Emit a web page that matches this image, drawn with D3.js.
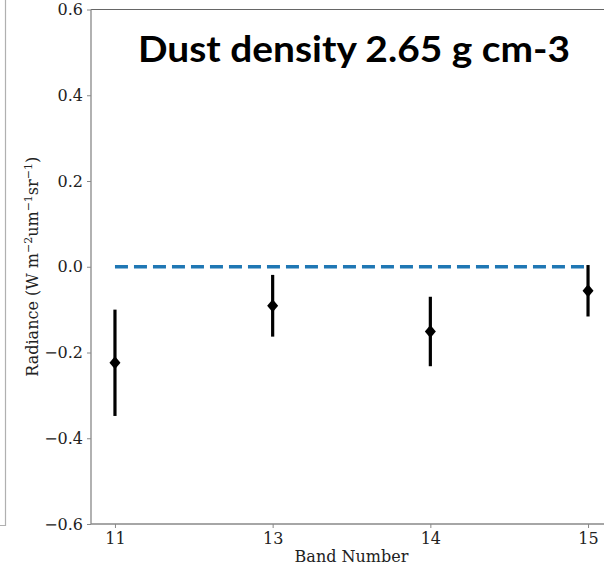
<!DOCTYPE html>
<html>
<head>
<meta charset="utf-8">
<script src="https://cdn.jsdelivr.net/npm/d3@7"></script>
<style>
  body { margin: 0; background: #fff; }
  text { font-family: "DejaVu Serif", serif; }
</style>
</head>
<body>
<script>
// values
var bands = ["11", "13", "14", "15"];
var radiance = [-0.224, -0.091, -0.151, -0.056];
var errors = [0.124, 0.072, 0.081, 0.060];
var yTicks = [-0.6, -0.4, -0.2, 0.0, 0.2, 0.4, 0.6];
var title = "Dust density 2.65 g cm-3";

var width = 604, height = 570;
var plotLeft = 91, plotRight = 612, plotTop = 9.5, plotBottom = 524;

var svg = d3.select("body").append("svg")
  .attr("width", width).attr("height", height);

// edge of the neighbouring panel
svg.append("path")
  .attr("d", "M5.5,0V525.5H0")
  .attr("fill", "none").attr("stroke", "#b0b0b0").attr("stroke-width", 1.2);

var x = d3.scalePoint().domain(bands).range([plotLeft, plotRight]).padding(0.152);
var y = d3.scaleLinear().domain([-0.6, 0.6]).range([plotBottom, plotTop]);

// top spine (right one falls outside the picture)
svg.append("line")
  .attr("x1", plotLeft).attr("x2", plotRight).attr("y1", plotTop).attr("y2", plotTop)
  .attr("stroke", "#666").attr("stroke-width", 1.2);

var yAxis = svg.append("g")
  .attr("transform", "translate(" + plotLeft + ",0)")
  .call(d3.axisLeft(y).tickValues(yTicks).tickFormat(d3.format(".1f")).tickSize(4).tickPadding(4));

var xAxis = svg.append("g")
  .attr("transform", "translate(0," + plotBottom + ")")
  .call(d3.axisBottom(x).tickSize(4).tickPadding(5));

[yAxis, xAxis].forEach(function(a) {
  a.select(".domain").attr("stroke", "#888").attr("stroke-width", 1.3);
  a.selectAll(".tick line").attr("stroke", "#888");
  a.selectAll(".tick text")
    .attr("fill", "#222")
    .style("font-family", "DejaVu Serif")
    .style("font-size", "16px");
});
xAxis.select(".domain").attr("d", "M" + plotLeft + ",0H" + plotRight);
yAxis.select(".domain").attr("d", "M0," + plotBottom + "V" + plotTop);

// axis labels
svg.append("text")
  .attr("x", (plotLeft + plotRight) / 2).attr("y", 562)
  .attr("text-anchor", "middle")
  .style("font-size", "16px").attr("fill", "#222")
  .text("Band Number");

var yl = svg.append("text")
  .attr("transform", "translate(38," + ((plotTop + plotBottom) / 2) + ") rotate(-90)")
  .attr("text-anchor", "middle")
  .style("font-size", "16px").attr("fill", "#222");
yl.append("tspan").text("Radiance (W m");
yl.append("tspan").attr("dy", -6).style("font-size", "11px").text("\u22122");
yl.append("tspan").attr("dy", 6).text("um");
yl.append("tspan").attr("dy", -6).style("font-size", "11px").text("\u22121");
yl.append("tspan").attr("dy", 6).text("sr");
yl.append("tspan").attr("dy", -6).style("font-size", "11px").text("\u22121");
yl.append("tspan").attr("dy", 6).text(")");

// zero reference line
svg.append("line")
  .attr("x1", x(bands[0])).attr("x2", x(bands[bands.length - 1]))
  .attr("y1", y(0)).attr("y2", y(0))
  .attr("stroke", "#1f77b4").attr("stroke-width", 3.5)
  .attr("stroke-dasharray", "13,6");

var pts = bands.map(function(b, i) {
  return { band: b, v: radiance[i], e: errors[i] };
});

svg.selectAll(".err")
  .data(pts).enter()
  .append("line")
  .attr("class", "err")
  .attr("x1", function(d) { return x(d.band); })
  .attr("x2", function(d) { return x(d.band); })
  .attr("y1", function(d) { return y(d.v + d.e); })
  .attr("y2", function(d) { return y(d.v - d.e); })
  .attr("stroke", "#000").attr("stroke-width", 3.2);

svg.selectAll(".pt")
  .data(pts).enter()
  .append("path")
  .attr("class", "pt")
  .attr("transform", function(d) { return "translate(" + x(d.band) + "," + y(d.v) + ")"; })
  .attr("d", "M0,-6.5L5.5,0L0,6.5L-5.5,0Z")
  .attr("fill", "#000");

// big title
svg.append("text")
  .attr("x", 138).attr("y", 61.5)
  .attr("textLength", 432).attr("lengthAdjust", "spacingAndGlyphs")
  .style("font-family", "Lato, 'Open Sans', sans-serif")
  .style("font-weight", "bold")
  .style("font-size", "37px")
  .attr("fill", "#000")
  .text(title);
</script>
</body>
</html>
